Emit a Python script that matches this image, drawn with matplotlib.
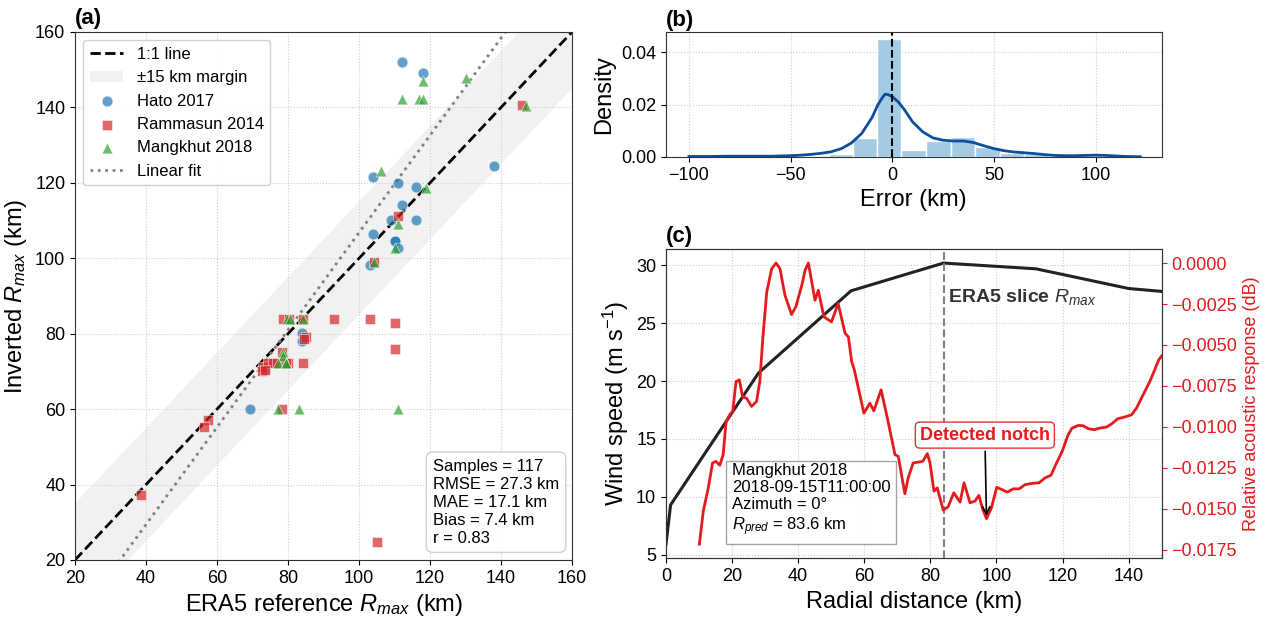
import matplotlib
matplotlib.use("Agg")
import matplotlib.pyplot as plt
import numpy as np
from matplotlib.ticker import MultipleLocator, FuncFormatter

plt.rcParams['font.family'] = ['Liberation Sans', 'DejaVu Sans']
plt.rcParams['mathtext.fontset'] = 'custom'
plt.rcParams['mathtext.rm'] = 'Liberation Sans'
plt.rcParams['mathtext.it'] = 'Liberation Sans:italic'
plt.rcParams['mathtext.bf'] = 'Liberation Sans:bold'
plt.rcParams['axes.edgecolor'] = '#333333'

# ---- panel (a): ERA5 vs inverted Rmax ----
hato_era5 = [112, 118, 138, 104, 111, 116, 112, 109, 116, 104, 110, 110, 111, 103, 84, 84, 69.3, 73.5, 73]
hato_inv = [152, 149, 124.5, 121.6, 120, 119, 114, 110.2, 110.2, 106.5, 104.7, 104.7, 102.7, 98.1, 80.1, 78, 60, 70.4, 71]

ramm_era5 = [145.8, 111, 104.1, 78.5, 80.3, 84.1, 93, 103, 110.1, 110.1, 84.1, 85, 84.5, 78.2, 78.2,
             57.4, 56.3, 38.5, 105.1, 73, 74.4, 75.8, 77, 80, 72.6, 73.5, 79.4]
ramm_inv = [140.6, 111.2, 98.9, 83.8, 83.8, 83.8, 83.8, 83.8, 82.8, 76, 72.3, 79, 78.5, 75.2, 60,
            57.1, 55.3, 37.3, 24.9, 71.3, 72.3, 72.3, 72.3, 72.3, 70, 70.5, 72.3]

mang_era5 = [112.1, 116.9, 118.1, 118.1, 130.1, 147, 106.1, 119, 111.1, 110.1, 104.1, 79.6, 80.5, 84.3,
             78.7, 78.7, 77.3, 79.4, 79.4, 77.3, 83.1, 111.1]
mang_inv = [142.3, 142.3, 142.3, 147, 147.9, 140.4, 123.2, 118.5, 109.2, 102.7, 98.9, 83.8, 83.8, 83.8,
            75.2, 74, 72.2, 72.2, 72.2, 60, 60, 60]

fit_slope = 1.29
fit_intercept = -22.2
margin_km = 15
stats_text = "Samples = 117\nRMSE = 27.3 km\nMAE = 17.1 km\nBias = 7.4 km\nr = 0.83"

# ---- panel (b): error histogram + KDE ----
bin_edges = [-31.1, -19.5, -7.5, 4.3, 16.6, 28.7, 40.7, 53.0, 64.9, 76.7]
bin_density = [0.0011, 0.0073, 0.0452, 0.0025, 0.0061, 0.0076, 0.0038, 0.0015, 0.0012]
kde_x = [-100, -90, -80, -70, -60, -50, -45, -40, -35, -30, -25, -20, -15, -10, -7, -5, -3.5, -2, 0, 3, 6,
         10, 15, 20, 25, 30, 35, 40, 45, 50, 55, 60, 65, 70, 75, 80, 85, 90, 95, 100, 105, 110, 115, 122]
kde_y = [0.0002, 0.0002, 0.0003, 0.0003, 0.0003, 0.0005, 0.0007, 0.0010, 0.0014, 0.0020, 0.0032, 0.0054,
         0.0090, 0.0150, 0.0200, 0.0225, 0.0240, 0.0238, 0.0230, 0.0210, 0.0180, 0.0134, 0.0096, 0.0073,
         0.0064, 0.0061, 0.0061, 0.0055, 0.0043, 0.0032, 0.0024, 0.0019, 0.0016, 0.0013, 0.0009, 0.0006,
         0.0005, 0.0005, 0.0006, 0.0007, 0.0006, 0.0004, 0.0002, 0.0001]

# ---- panel (c): wind profile and acoustic response ----
wind_r = [0, 1.4, 28, 56, 84, 112, 140, 150]
wind_speed = [5.9, 9.3, 20.7, 27.8, 30.2, 29.7, 28.0, 27.75]

acoustic_r = [10.1, 11.3, 12.8, 14.1, 15.1, 16.3, 17.3, 18.2, 19.4, 20.2, 21.2, 22.2, 23.2, 24.4, 25.9,
              27.4, 28.4, 29.3, 30.5, 32.0, 33.3, 34.5, 36.0, 38.0, 39.3, 41.1, 42.1, 43.1, 45.1, 46.1,
              47.8, 50.1, 52.1, 54.2, 55.2, 56.2, 57.0, 59.9, 61.7, 62.9, 65.1, 67.0, 69.3, 70.3, 72.3,
              73.3, 74.8, 76.0, 77.7, 79.1, 79.9, 81.1, 82.1, 83.9, 85.4, 87.1, 89.0, 90.2, 92.0, 93.5,
              94.7, 95.8, 97.0, 98.5, 100.1, 101.6, 103.3, 105.1, 106.9, 108.6, 110.6, 112.9, 114.7,
              116.5, 118.2, 119.9, 121.7, 122.9, 124.8, 126.3, 127.8, 129.6, 131.3, 133.3, 134.9, 136.7,
              138.7, 140.9, 142.4, 144.4, 146.4, 147.9, 149.1, 150.0]
acoustic_db = [-0.01716, -0.01514, -0.01372, -0.01220, -0.01210, -0.01234, -0.01169, -0.00967, -0.00922,
               -0.00906, -0.00723, -0.00713, -0.00818, -0.00825, -0.00875, -0.00845, -0.00723, -0.00460,
               -0.00176, -0.00034, 0.00000, -0.00034, -0.00196, -0.00314, -0.00267, -0.00136, -0.00044,
               0.00000, -0.00227, -0.00166, -0.00328, -0.00359, -0.00247, -0.00429, -0.00450, -0.00602,
               -0.00652, -0.00916, -0.00855, -0.00902, -0.00774, -0.00946, -0.01169, -0.01180, -0.01408,
               -0.01311, -0.01220, -0.01216, -0.01210, -0.01163, -0.01220, -0.01392, -0.01372, -0.01508,
               -0.01487, -0.01402, -0.01459, -0.01341, -0.01463, -0.01453, -0.01418, -0.01500, -0.01560,
               -0.01493, -0.01368, -0.01382, -0.01398, -0.01378, -0.01378, -0.01353, -0.01345, -0.01341,
               -0.01311, -0.01295, -0.01220, -0.01149, -0.01048, -0.01007, -0.00991, -0.00993, -0.01011,
               -0.01017, -0.01007, -0.01001, -0.00981, -0.00950, -0.00940, -0.00926, -0.00885, -0.00804,
               -0.00724, -0.00652, -0.00592, -0.00567]
era5_rmax = 84
notch_r = 97.0
notch_db = -0.0156
case_text = "Mangkhut 2018\n2018-09-15T11:00:00\nAzimuth = 0°\n$R_{pred}$ = 83.6 km"

fig = plt.figure(figsize=(12.69, 6.22), dpi=100)
ax_a = fig.add_axes([0.0591, 0.0997, 0.3917, 0.8489])
ax_b = fig.add_axes([0.5248, 0.7476, 0.3906, 0.201])
ax_c = fig.add_axes([0.5248, 0.1024, 0.3906, 0.4973])

grid_kw = dict(color='#cccccc', linestyle=':', linewidth=0.8)
label_fs = 17
tick_fs = 13

# (a)
line = np.array([20, 160])
ax_a.fill_between(line, line - margin_km, line + margin_km, color='lightgray', alpha=0.3,
                  linewidth=0, label='±15 km margin')
ax_a.plot(line, line, 'k--', lw=2, label='1:1 line')
ax_a.scatter(hato_era5, hato_inv, s=60, marker='o', color='tab:blue', alpha=0.7,
             edgecolors='white', linewidths=0.5, label='Hato 2017', zorder=3)
ax_a.scatter(ramm_era5, ramm_inv, s=55, marker='s', color='tab:red', alpha=0.7,
             edgecolors='white', linewidths=0.5, label='Rammasun 2014', zorder=3)
ax_a.scatter(mang_era5, mang_inv, s=60, marker='^', color='tab:green', alpha=0.7,
             edgecolors='white', linewidths=0.5, label='Mangkhut 2018', zorder=3)
ax_a.plot(line, fit_slope * line + fit_intercept, color='gray', linestyle=':', lw=2, label='Linear fit')
ax_a.set_xlim(20, 160)
ax_a.set_ylim(20, 160)
ax_a.xaxis.set_major_locator(MultipleLocator(20))
ax_a.yaxis.set_major_locator(MultipleLocator(20))
ax_a.grid(True, **grid_kw)
ax_a.set_axisbelow(True)
ax_a.tick_params(labelsize=tick_fs)
ax_a.set_xlabel("ERA5 reference $R_{max}$ (km)", fontsize=label_fs)
ax_a.set_ylabel("Inverted $R_{max}$ (km)", fontsize=label_fs)
handles, labels = ax_a.get_legend_handles_labels()
order = [labels.index(k) for k in ['1:1 line', '±15 km margin', 'Hato 2017', 'Rammasun 2014',
                                   'Mangkhut 2018', 'Linear fit']]
ax_a.legend([handles[i] for i in order], [labels[i] for i in order], loc='upper left', fontsize=12,
            framealpha=0.9, edgecolor='#cccccc')
ax_a.text(0.72, 0.027, stats_text, transform=ax_a.transAxes, fontsize=12, va='bottom', ha='left',
          linespacing=1.25, bbox=dict(boxstyle='round,pad=0.4', fc='white', ec='#cccccc', alpha=0.9))
ax_a.text(0.0, 1.005, "(a)", transform=ax_a.transAxes, fontsize=16, fontweight='bold', va='bottom')

# (b)
edges = np.array(bin_edges)
ax_b.bar(edges[:-1], bin_density, width=np.diff(edges), align='edge', color='#a3cbe4',
         edgecolor='white', linewidth=1)
ax_b.plot(kde_x, kde_y, color='#0b4f9c', lw=2)
ax_b.axvline(0, color='black', linestyle='--', lw=1.5)
ax_b.set_xlim(-111.3, 132.5)
ax_b.set_ylim(0, 0.0477)
ax_b.set_xticks([-100, -50, 0, 50, 100])
ax_b.set_yticks([0.00, 0.02, 0.04])
ax_b.yaxis.set_major_formatter(FuncFormatter(lambda v, p: f"{v:.2f}"))
ax_b.grid(True, **grid_kw)
ax_b.set_axisbelow(True)
ax_b.tick_params(labelsize=tick_fs)
ax_b.set_xlabel("Error (km)", fontsize=label_fs)
ax_b.set_ylabel("Density", fontsize=label_fs)
ax_b.text(0.0, 1.01, "(b)", transform=ax_b.transAxes, fontsize=16, fontweight='bold', va='bottom')

# (c)
ax_c.plot(wind_r, wind_speed, color='#222222', lw=2.2)
ax_c.axvline(era5_rmax, color='gray', linestyle='--', lw=1.5)
ax_c.text(era5_rmax + 1.3, 27.3, "ERA5 slice $R_{max}$", fontsize=14, fontweight='bold',
          color='#333333', va='center')
ax_c.set_xlim(0, 150)
ax_c.xaxis.set_major_locator(MultipleLocator(20))
ax_c.yaxis.set_major_locator(MultipleLocator(5))
ax_c.grid(True, **grid_kw)
ax_c.set_axisbelow(True)
ax_c.tick_params(labelsize=tick_fs)
ax_c.set_xlabel("Radial distance (km)", fontsize=label_fs)
ax_c.set_ylabel("Wind speed (m s$^{-1}$)", fontsize=label_fs)
ax_c.text(0.133, 0.066, case_text, transform=ax_c.transAxes, fontsize=12, va='bottom', ha='left',
          bbox=dict(boxstyle='square,pad=0.35', fc='white', ec='#999999', alpha=0.9), zorder=5)
ax_c.text(0.0, 1.005, "(c)", transform=ax_c.transAxes, fontsize=16, fontweight='bold', va='bottom')

ax_r = ax_c.twinx()
ax_r.plot(acoustic_r, acoustic_db, color='#e41a1c', lw=2)
ax_r.yaxis.set_major_locator(MultipleLocator(0.0025))
ax_r.yaxis.set_major_formatter(FuncFormatter(
    lambda v, p: ("%.4f" % (0.0 if abs(v) < 1e-9 else v)).replace('-', '\u2212')))
ax_r.tick_params(axis='y', colors='#e41a1c', labelsize=tick_fs)
ax_r.spines['right'].set_color('#333333')
ax_r.set_ylabel("Relative acoustic response (dB)", color='#e41a1c', fontsize=13)
ax_r.annotate("Detected notch", xy=(notch_r, notch_db), xytext=(96.5, -0.0105),
              ha='center', va='center', fontsize=13, fontweight='bold', color='#e41a1c',
              bbox=dict(boxstyle='round,pad=0.25', fc='white', ec='#e41a1c', alpha=0.9),
              arrowprops=dict(arrowstyle='->', color='black', lw=1.2))
ax_c.set_xlim(0, 150)

fig.savefig("out.png", dpi=100)
